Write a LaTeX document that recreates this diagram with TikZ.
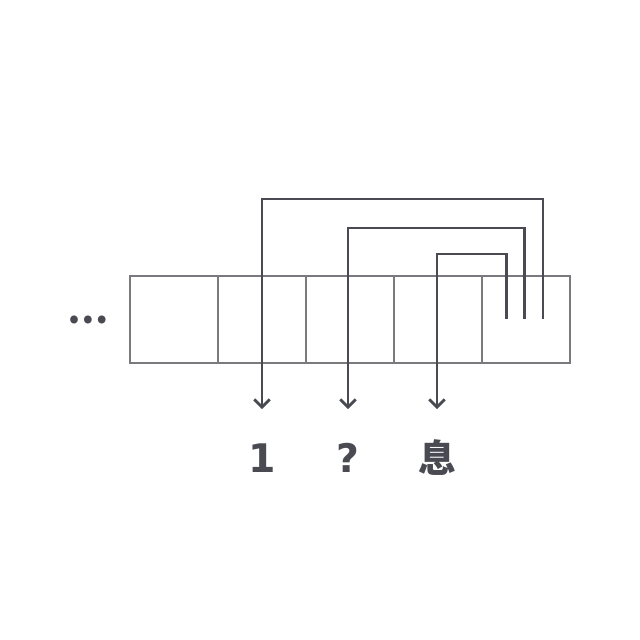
\documentclass[tikz,border=0pt]{standalone}
\usepackage{fontspec}
\newfontfamily\cjk{Noto Sans CJK SC}
\newfontfamily\latin{DejaVu Sans}
\usetikzlibrary{positioning, arrows.meta}
\definecolor{boxgray}{HTML}{7A7A7E}
\definecolor{linkgray}{HTML}{4A4A52}

\begin{document}
\begin{tikzpicture}[
    x=0.025cm, y=-0.025cm,
    node distance=0cm,
    cell/.style={
      draw=boxgray, line width=0.9pt, minimum width=2.2cm, minimum height=2.175cm, inner sep=0pt, outer sep=0pt
    },
    link/.style={
      draw=linkgray, line width=2pt, -{Straight Barb[length=5.5pt, width=11pt]}
    },
    glyph/.style={
      text=linkgray, anchor=base, inner sep=0pt, font=\cjk\bfseries\fontsize{27}{27}\selectfont
    },
    digit/.style={
      glyph, font=\latin\bfseries\fontsize{28}{28}\selectfont
    },
  ]
    \useasboundingbox (0,0) rectangle (640,640);

    % memory cells
    \node [cell] (cell1) at (174,319.5) {};
    \node [cell, right=of cell1] (cell2) {};
    \node [cell, right=of cell2] (cell3) {};
    \node [cell, right=of cell3] (cell4) {};
    \node [cell, right=of cell4] (cell5) {};
    \node [glyph, anchor=center, font=\cjk\bfseries\fontsize{26}{26}\selectfont] (dots) at (88,320) {…};

    % pointers inside the last cell
    \coordinate (src1) at (543,319);
    \coordinate (src2) at (524.5,319);
    \coordinate (src3) at (506.5,319);

    % arrow ends
    \coordinate (end1) at (262,409);
    \coordinate (end2) at (348,409);
    \coordinate (end3) at (437,409);

    % decoded characters
    \node [digit] (char1) at (262,472) {1};
    \node [digit] (char2) at (348,472) {?};
    \node [glyph] (char3) at (437,472) {息};

    % links
    \draw [link] (src1) -- ++(0,-120) -| (end1);
    \draw [link] (src2) -- ++(0,-91) -| (end2);
    \draw [link] (src3) -- ++(0,-65) -| (end3);

  \end{tikzpicture}
\end{document}
